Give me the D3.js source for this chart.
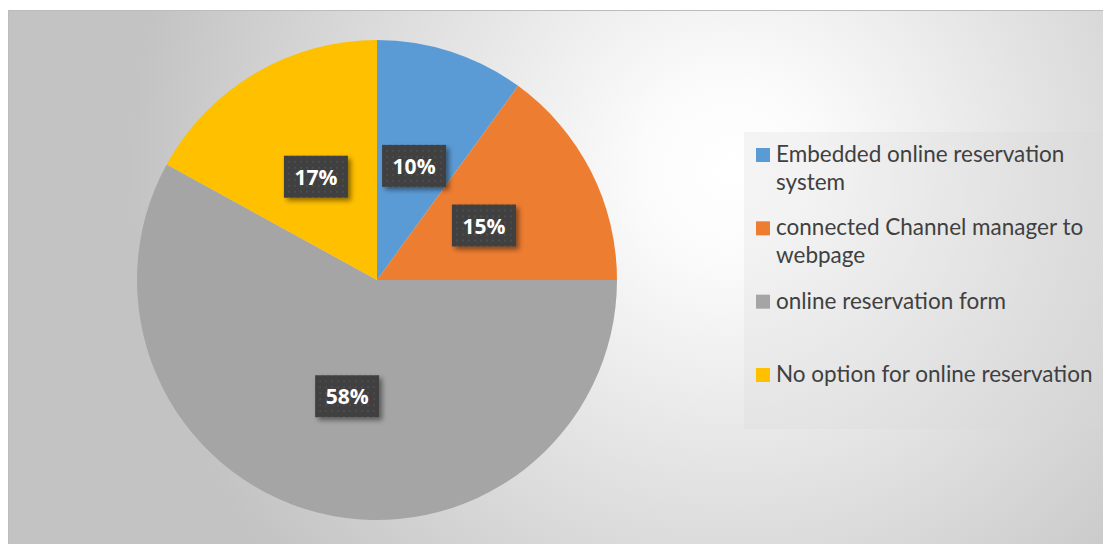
<!DOCTYPE html>
<html>
<head>
<meta charset="utf-8">
<script src="https://cdn.jsdelivr.net/npm/d3@7"></script>
<style>
  body { margin: 0; background: #fff; }
  svg { display: block; }
</style>
</head>
<body>
<div id="chart"></div>
<script>
// data
var categories = ["Embedded online reservation system", "connected Channel manager to webpage", "online reservation form", "No option for online reservation"];
var values = [10, 15, 58, 17];
var legendLines = [["Embedded online reservation", "system"], ["connected Channel manager to", "webpage"], ["online reservation form"], ["No option for online reservation"]];
var colors = ["#5b9bd5", "#ed7d31", "#a5a5a5", "#ffc000"];

var W = 1103, H = 544;
var cx = 377, cy = 280, R = 240;

var svg = d3.select("#chart").append("svg")
    .attr("width", W)
    .attr("height", H);

var defs = svg.append("defs");

// background gradient (white in the upper right, grey to the edges)
var bg = defs.append("radialGradient")
    .attr("id", "bgGrad")
    .attr("gradientUnits", "userSpaceOnUse")
    .attr("cx", 730).attr("cy", 170).attr("r", 600);
bg.append("stop").attr("offset", 0).attr("stop-color", "#ffffff");
bg.append("stop").attr("offset", 0.15).attr("stop-color", "#fbfbfb");
bg.append("stop").attr("offset", 1).attr("stop-color", "#c3c3c3");

// dotted dark pattern for the data labels
var pat = defs.append("pattern")
    .attr("id", "dots")
    .attr("patternUnits", "userSpaceOnUse")
    .attr("width", 6).attr("height", 6);
pat.append("rect").attr("width", 6).attr("height", 6).attr("fill", "#3f3f3f");
pat.append("rect").attr("x", 2).attr("y", 2).attr("width", 2).attr("height", 2).attr("fill", "#4d4d4d");

var shadow = defs.append("filter")
    .attr("id", "shadow")
    .attr("x", "-30%").attr("y", "-30%")
    .attr("width", "160%").attr("height", "160%");
shadow.append("feDropShadow")
    .attr("dx", 3).attr("dy", 3)
    .attr("stdDeviation", 2.5)
    .attr("flood-color", "#000")
    .attr("flood-opacity", 0.45);

// chart area
svg.append("rect")
    .attr("x", 8.5).attr("y", 10.5)
    .attr("width", W - 8).attr("height", H - 10)
    .attr("fill", "url(#bgGrad)")
    .attr("stroke", "#bcbcbc")
    .attr("stroke-width", 1);

// pie
var pie = d3.pie().sort(null).value(function(d) { return d; });
var arcs = pie(values);
var arc = d3.arc().innerRadius(0).outerRadius(R);

var g = svg.append("g").attr("transform", "translate(" + cx + "," + cy + ")");

g.selectAll("path.slice")
    .data(arcs)
    .enter().append("path")
    .attr("class", "slice")
    .attr("d", arc)
    .attr("fill", function(d, i) { return colors[i]; });

// data labels
var boxW = 64, boxH = 42;
var labels = g.selectAll("g.lbl")
    .data(arcs)
    .enter().append("g")
    .attr("class", "lbl")
    .attr("transform", function(d) {
        var c = arc.centroid(d);
        return "translate(" + c[0] + "," + c[1] + ")";
    });

labels.append("rect")
    .attr("x", -boxW / 2).attr("y", -boxH / 2)
    .attr("width", boxW).attr("height", boxH)
    .attr("fill", "url(#dots)")
    .attr("filter", "url(#shadow)");

labels.append("text")
    .attr("text-anchor", "middle")
    .attr("y", 8)
    .attr("fill", "#ffffff")
    .style("font-family", "'Open Sans', sans-serif")
    .style("font-weight", "bold")
    .style("font-size", "21px")
    .text(function(d) { return d.data + "%"; });

// legend
svg.append("rect")
    .attr("x", 744).attr("y", 132)
    .attr("width", 357).attr("height", 297)
    .attr("fill", "#d6d6d6")
    .attr("fill-opacity", 0.25);

var legY = d3.scaleLinear().domain([0, categories.length - 1]).range([162, 382]);

var leg = svg.selectAll("g.leg")
    .data(categories)
    .enter().append("g")
    .attr("class", "leg")
    .attr("transform", function(d, i) { return "translate(756," + legY(i) + ")"; });

leg.append("rect")
    .attr("x", 0).attr("y", -14)
    .attr("width", 14).attr("height", 14)
    .attr("fill", function(d, i) { return colors[i]; });

leg.append("text")
    .attr("x", 20)
    .attr("fill", "#404040")
    .style("font-family", "Lato, sans-serif")
    .style("font-size", "22.5px")
    .selectAll("tspan")
    .data(function(d, i) { return legendLines[i]; })
    .enter().append("tspan")
    .attr("x", 20)
    .attr("dy", function(d, j) { return j === 0 ? 0 : 28; })
    .text(function(d) { return d; });
</script>
</body>
</html>
